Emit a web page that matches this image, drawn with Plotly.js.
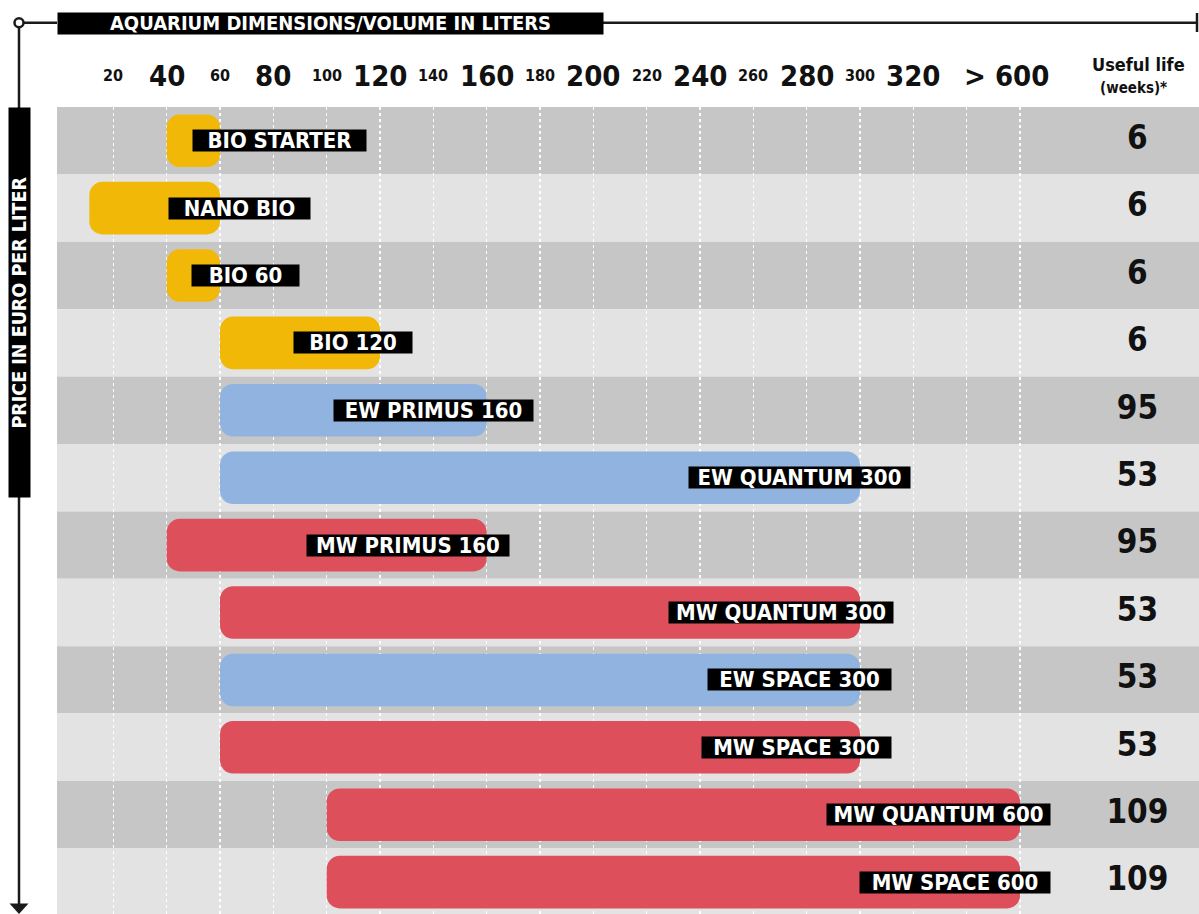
<!DOCTYPE html>
<html>
<head>
<meta charset="utf-8">
<script src="https://cdn.plot.ly/plotly-3.0.1.min.js"></script>
<style>
html,body{margin:0;padding:0;background:#ffffff;}
#chart{width:1199px;height:914px;}
</style>
</head>
<body>
<div id="chart"></div>
<script>
// ---------------- DATA ----------------
const products = ['BIO STARTER','NANO BIO','BIO 60','BIO 120','EW PRIMUS 160','EW QUANTUM 300',
  'MW PRIMUS 160','MW QUANTUM 300','EW SPACE 300','MW SPACE 300','MW QUANTUM 600','MW SPACE 600'];
const productLine = ['BIO','BIO','BIO','BIO','EW','EW','MW','MW','EW','MW','MW','MW'];
const volumeMin = [40, 11, 40, 60, 60, 60, 40, 60, 60, 60, 100, 100];
const volumeMax = [60, 60, 60, 120, 160, 300, 160, 300, 300, 300, 360, 360]; // 360 = "> 600" column
const usefulLifeWeeks = [6, 6, 6, 6, 95, 53, 95, 53, 53, 53, 109, 109];
const majorTickVals = [40, 80, 120, 160, 200, 240, 280, 320, 355];
const majorTickText = ['40','80','120','160','200','240','280','320','> 600'];
const minorTickVals = [20, 60, 100, 140, 180, 220, 260, 300];
const minorTickText = ['20','60','100','140','180','220','260','300'];
const gridVals = [20,40,60,80,100,120,140,160,180,200,220,240,260,280,300,320,340,360];

// ---------------- STYLE ----------------
const W = 1199, H = 914, ML = 57, MT = 107;
const PW = W - ML, PH = H - MT;
const lineColors = {BIO:'#f2b807', EW:'#90b4df', MW:'#dd505b'};
const bandDark = '#c6c6c6', bandLight = '#e3e3e3';
const FONT = "'DejaVu Sans Condensed', 'DejaVu Sans', sans-serif";
const lifeColumnX = 404;
// label box widths (px) and right-edge offsets from bar end (px)
const labelBoxW = [173,141,107,118,199,221,202,224,183,189,223,190];
const labelOff  = [147, 91, 80, 33, 47, 51, 23, 34, 32, 32, 31, 31];

const px = x => (x - ML) / PW;        // page px -> paper x
const py = y => (H - y) / PH;         // page px -> paper y

const rows = products.map((_, i) => i);
const colors = productLine.map(k => lineColors[k]);

const bars = {
  type: 'bar', orientation: 'h', y: rows,
  base: volumeMin,
  x: volumeMax.map((v, i) => v - volumeMin[i]),
  width: 0.78,
  marker: {color: colors, cornerradius: 13, line: {width: 0}},
  hoverinfo: 'skip', showlegend: false
};
const lifeText = {
  type: 'scatter', mode: 'text', y: rows,
  x: rows.map(() => lifeColumnX),
  text: usefulLifeWeeks.map(String),
  textposition: 'middle center',
  textfont: {family: FONT, size: 33, weight: 700, color: '#111111'},
  cliponaxis: false, hoverinfo: 'skip', showlegend: false
};

// background bands
const shapes = rows.map(i => ({
  type: 'rect', xref: 'paper', yref: 'y', x0: 0, x1: 1, y0: i - 0.5, y1: i + 0.5,
  fillcolor: i % 2 === 0 ? bandDark : bandLight, line: {width: 0}, layer: 'below'
}));
// decorations
const dark = '#1a1a1a';
shapes.push(
  {type:'line', xref:'paper', yref:'paper', x0: px(602), x1: px(1197), y0: py(22.7), y1: py(22.7), line:{color: dark, width: 2.5}},
  {type:'line', xref:'paper', yref:'paper', x0: px(1197), x1: px(1197), y0: py(13), y1: py(32), line:{color: dark, width: 2.5}},
  {type:'line', xref:'paper', yref:'paper', x0: px(23.5), x1: px(57), y0: py(22.7), y1: py(22.7), line:{color: dark, width: 2.5}},
  {type:'line', xref:'paper', yref:'paper', x0: px(19), x1: px(19), y0: py(27.2), y1: py(905), line:{color: dark, width: 2.5}},
  {type:'circle', xref:'paper', yref:'paper', x0: px(14.5), x1: px(23.5), y0: py(27.2), y1: py(18.2), line:{color: dark, width: 2.5}, fillcolor:'#ffffff'},
  {type:'path', xref:'paper', yref:'paper',
   path: `M ${px(9.5)},${py(903.5)} L ${px(28.5)},${py(903.5)} L ${px(19)},${py(914)} Z`,
   fillcolor: dark, line:{color: dark, width: 0}}
);

const annotations = products.map((name, i) => ({
  x: volumeMax[i], y: i, xref: 'x', yref: 'y',
  xanchor: 'right', yanchor: 'middle', xshift: labelOff[i],
  text: name, showarrow: false,
  width: labelBoxW[i], height: 21, borderpad: 0, align: 'center', valign: 'middle',
  bgcolor: '#000000',
  font: {family: FONT, size: 22, weight: 700, color: '#ffffff'}
}));
// axis tick labels (two sizes), vertically centred like the original
majorTickVals.forEach((v, i) => annotations.push({
  x: v, xref: 'x', y: py(76), yref: 'paper', xanchor: 'center', yanchor: 'middle',
  text: majorTickText[i], showarrow: false,
  font: {family: FONT, size: 29, weight: 700, color: '#111111'}
}));
minorTickVals.forEach((v, i) => annotations.push({
  x: v, xref: 'x', y: py(75), yref: 'paper', xanchor: 'center', yanchor: 'middle',
  text: minorTickText[i], showarrow: false,
  font: {family: FONT, size: 16, weight: 700, color: '#111111'}
}));
annotations.push(
  {xref:'paper', yref:'paper', x: 0, y: py(12.3), xanchor:'left', yanchor:'top',
   text:'AQUARIUM DIMENSIONS/VOLUME IN LITERS', showarrow:false, width: 545, height: 20.5,
   borderpad: 0, bgcolor:'#000000', align:'center', valign:'middle',
   font:{family: FONT, size: 20, weight: 700, color:'#ffffff'}},
  {xref:'paper', yref:'paper', x: px(19.5), y: py(302.5), xanchor:'center', yanchor:'middle',
   text:'PRICE IN EURO PER LITER', textangle: -90, showarrow:false, width: 389, height: 21,
   borderpad: 0, bgcolor:'#000000', align:'center', valign:'middle',
   font:{family: FONT, size: 19.5, weight: 700, color:'#ffffff'}},
  {xref:'paper', yref:'paper', x: px(1138), y: py(64), xanchor:'center', yanchor:'middle',
   text:'Useful life', showarrow:false,
   font:{family: FONT, size: 18, weight: 700, color:'#111111'}},
  {xref:'paper', yref:'paper', x: px(1133), y: py(88), xanchor:'center', yanchor:'middle',
   text:'(weeks)*', showarrow:false,
   font:{family: FONT, size: 15, weight: 700, color:'#111111'}}
);

const xRange = [-1.125, 427.1];
const layout = {
  width: W, height: H, autosize: false,
  margin: {l: ML, r: 0, t: MT, b: 0, pad: 0},
  paper_bgcolor: '#ffffff', plot_bgcolor: '#ffffff',
  showlegend: false,
  xaxis: {range: xRange, side: 'top', tickmode: 'array', tickvals: gridVals,
    showticklabels: false, ticks: '', showgrid: true, gridcolor: 'rgba(255,255,255,0.95)',
    griddash: 'dot', gridwidth: 1.5, zeroline: false, showline: false, fixedrange: true},
  yaxis: {range: [11.473, -0.5], showticklabels: false, ticks: '', showgrid: false,
    zeroline: false, showline: false, fixedrange: true},
  shapes: shapes,
  annotations: annotations
};

Plotly.newPlot('chart', [bars, lifeText], layout, {displayModeBar: false, staticPlot: true});
</script>
</body>
</html>
